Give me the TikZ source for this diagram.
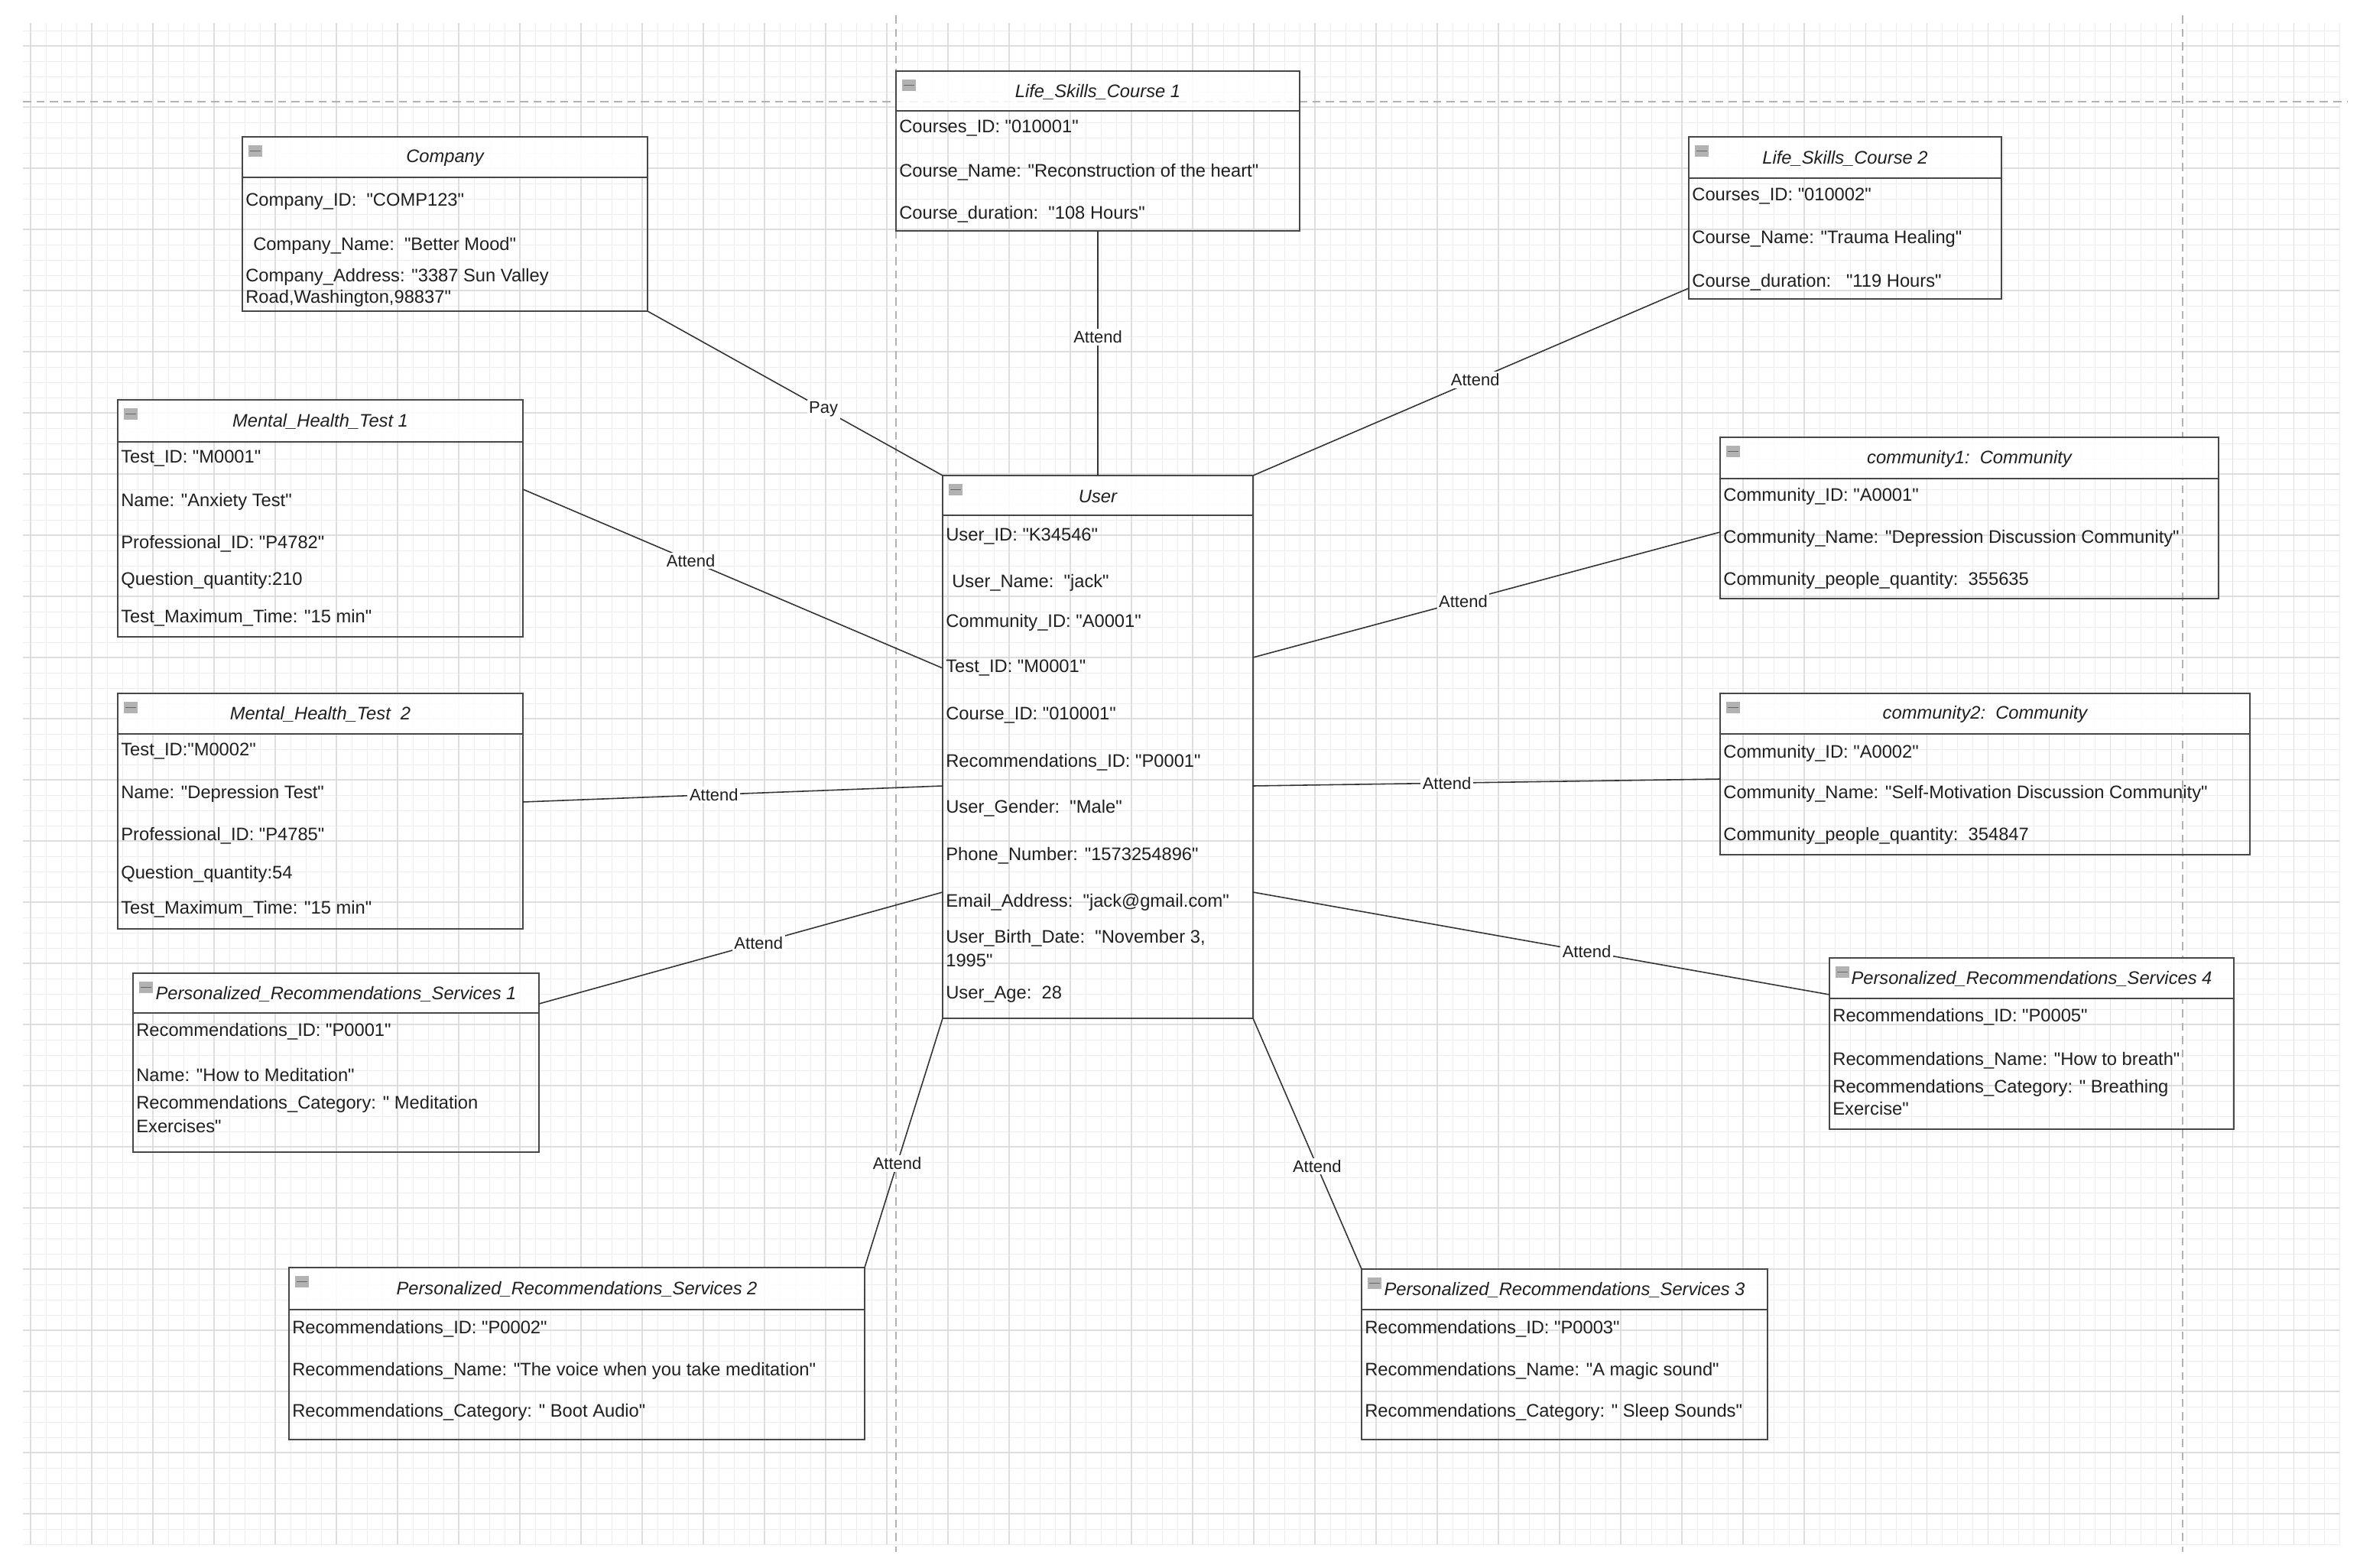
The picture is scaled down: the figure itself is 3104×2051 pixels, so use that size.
\documentclass[tikz,border=0pt]{standalone}
\usepackage{fontspec}
\setmainfont{Liberation Sans}[Ligatures=TeXOff]
\usetikzlibrary{calc,fit}
\newcounter{rowc}
\newcommand\umlbox[7]{% name, x1,y1,x2,y2,hy,title
  \fill[white, fill opacity=0.85] (#2,#3) rectangle (#4,#6);
  \node[boxsty, fit={(#2,#3)(#4,#5)}] (#1) {};
  \draw[boxsty] (#2,#6) -- (#4,#6);
  \node[titletext] (#1-title) at ({(#2+#4)/2},{(#3+#6)/2+1}) {#7};
  \fill[boxicon] ({#2+8},{#3+11}) rectangle ({#2+26},{#3+26});
  \draw[boxiconbar] ({#2+10},{#3+18.5}) -- ({#2+24},{#3+18.5});
}
\newcommand\rowtxt[3]{\stepcounter{rowc}\node[rowtext] (row\arabic{rowc}) at (#1,#2) {#3};}
\begin{document}
\begin{tikzpicture}[x=0.02cm,y=-0.02cm,
  boxsty/.style={draw=black!72, line width=1.3pt, inner sep=0pt, outer sep=0pt},
  rowtext/.style={anchor=west, inner sep=0pt, text=black!88, font=\fontsize{13.5}{16}\selectfont},
  titletext/.style={inner sep=0pt, text=black!88, font=\fontsize{13.5}{16}\selectfont\itshape},
  conn/.style={draw=black!80, line width=0.9pt},
  lbl/.style={fill=white, inner sep=1.5pt, text=black!88, font=\fontsize{12.5}{15}\selectfont},
  boxicon/.style={fill=black!30},
  boxiconbar/.style={draw=black!60, line width=1pt},
  minorgrid/.style={draw=black!7, line width=0.5pt},
  majorgrid/.style={draw=black!13, line width=0.6pt},
  pagebreak/.style={draw=black!30, line width=0.9pt, dash pattern=on 6pt off 4pt}]
\useasboundingbox (0,0) rectangle (3104,2051);
\fill[white] (0,0) rectangle (3104,2051);
% grid
\foreach \x in {40,60,...,3060} \draw[minorgrid] (\x,30) -- (\x,2020);
\foreach \y in {40,60,...,2020} \draw[minorgrid] (30,\y) -- (3060,\y);
\foreach \x in {40,120,...,3060} \draw[majorgrid] (\x,30) -- (\x,2020);
\foreach \y in {60,140,...,2020} \draw[majorgrid] (30,\y) -- (3060,\y);
% page breaks
\draw[pagebreak] (30,133) -- (3070,133);
\draw[pagebreak] (1172,20) -- (1172,2030);
\draw[pagebreak] (2855,20) -- (2855,2030);

% boxes
\umlbox{comp}{317}{179}{847}{407}{232}{Company}
\rowtxt{321}{264}{Company\_ID:~~"COMP123"}
\rowtxt{331}{321}{Company\_Name:~~"Better Mood"}
\rowtxt{321}{362}{Company\_Address: "3387 Sun Valley}
\rowtxt{321}{390}{Road,Washington,98837"}

\umlbox{lsca}{1172}{93}{1700}{302}{145}{Life\_Skills\_Course 1}
\rowtxt{1176}{168}{Courses\_ID: "010001"}
\rowtxt{1176}{225}{Course\_Name: "Reconstruction of the heart"}
\rowtxt{1176}{280}{Course\_duration:~~"108 Hours"}

\umlbox{lscb}{2209}{179}{2618}{391}{233}{Life\_Skills\_Course 2}
\rowtxt{2213}{257}{Courses\_ID: "010002"}
\rowtxt{2213}{312}{Course\_Name: "Trauma Healing"}
\rowtxt{2213}{369}{Course\_duration:~~~"119 Hours"}

\umlbox{mhta}{154}{523}{684}{833}{578}{Mental\_Health\_Test 1}
\rowtxt{158}{600}{Test\_ID: "M0001"}
\rowtxt{158}{656}{Name: "Anxiety Test"}
\rowtxt{158}{711}{Professional\_ID: "P4782"}
\rowtxt{158}{759}{Question\_quantity:210}
\rowtxt{158}{808}{Test\_Maximum\_Time: "15 min"}

\umlbox{mhtb}{154}{907}{684}{1215}{960}{Mental\_Health\_Test~~2}
\rowtxt{158}{983}{Test\_ID:"M0002"}
\rowtxt{158}{1038}{Name: "Depression Test"}
\rowtxt{158}{1093}{Professional\_ID: "P4785"}
\rowtxt{158}{1143}{Question\_quantity:54}
\rowtxt{158}{1189}{Test\_Maximum\_Time: "15 min"}

\umlbox{user}{1233}{622}{1639}{1332}{674}{User}
\rowtxt{1237}{702}{User\_ID: "K34546"}
\rowtxt{1245}{762}{User\_Name:~~"jack"}
\rowtxt{1237}{814}{Community\_ID: "A0001"}
\rowtxt{1237}{874}{Test\_ID: "M0001"}
\rowtxt{1237}{936}{Course\_ID: "010001"}
\rowtxt{1237}{997}{Recommendations\_ID: "P0001"}
\rowtxt{1237}{1057}{User\_Gender:~~"Male"}
\rowtxt{1237}{1119}{Phone\_Number: "1573254896"}
\rowtxt{1237}{1180}{Email\_Address:~~"jack@gmail.com"}
\rowtxt{1237}{1227}{User\_Birth\_Date:~~"November 3,}
\rowtxt{1237}{1256}{1995"}
\rowtxt{1237}{1301}{User\_Age:~~28}

\umlbox{coma}{2250}{572}{2902}{783}{626}{community1:~~Community}
\rowtxt{2254}{649}{Community\_ID: "A0001"}
\rowtxt{2254}{704}{Community\_Name: "Depression Discussion Community"}
\rowtxt{2254}{759}{Community\_people\_quantity:~~355635}

\umlbox{comb}{2250}{907}{2943}{1118}{960}{community2:~~Community}
\rowtxt{2254}{985}{Community\_ID: "A0002"}
\rowtxt{2254}{1038}{Community\_Name: "Self-Motivation Discussion Community"}
\rowtxt{2254}{1093}{Community\_people\_quantity:~~354847}

\umlbox{prsa}{174}{1273}{705}{1507}{1325}{Personalized\_Recommendations\_Services 1}
\rowtxt{178}{1349}{Recommendations\_ID: "P0001"}
\rowtxt{178}{1406}{Name: "How to Meditation"}
\rowtxt{178}{1444}{Recommendations\_Category: " Meditation}
\rowtxt{178}{1473}{Exercises"}

\umlbox{prsd}{2393}{1253}{2922}{1477}{1306}{Personalized\_Recommendations\_Services 4}
\rowtxt{2397}{1330}{Recommendations\_ID: "P0005"}
\rowtxt{2397}{1387}{Recommendations\_Name: "How to breath"}
\rowtxt{2397}{1423}{Recommendations\_Category: " Breathing}
\rowtxt{2397}{1450}{Exercise"}

\umlbox{prsb}{378}{1658}{1131}{1883}{1713}{Personalized\_Recommendations\_Services 2}
\rowtxt{382}{1738}{Recommendations\_ID: "P0002"}
\rowtxt{382}{1793}{Recommendations\_Name: "The voice when you take meditation"}
\rowtxt{382}{1847}{Recommendations\_Category: " Boot Audio"}

\umlbox{prsc}{1781}{1660}{2312}{1883}{1713}{Personalized\_Recommendations\_Services 3}
\rowtxt{1785}{1738}{Recommendations\_ID: "P0003"}
\rowtxt{1785}{1793}{Recommendations\_Name: "A magic sound"}
\rowtxt{1785}{1847}{Recommendations\_Category: " Sleep Sounds"}

% connectors
\draw[conn] (comp.south east) -- node[lbl, pos=0.596] (l1) {Pay} (user.north west);
\draw[conn] (lsca.south) -- node[lbl, pos=0.434] (l2) {Attend} (user.north);
\draw[conn] (user.north east) -- node[lbl, pos=0.51] (l3) {Attend} ($(lscb.south west)+(0,-14)$);
\draw[conn] ($(mhta.north east)+(0,117)$) -- node[lbl, pos=0.40] (l4) {Attend} ($(user.north west)+(0,252)$);
\draw[conn] ($(mhtb.north east)+(0,142)$) -- node[lbl, pos=0.455] (l5) {Attend} ($(user.north west)+(0,406)$);
\draw[conn] ($(prsa.north east)+(0,40)$) -- node[lbl, pos=0.544] (l6) {Attend} ($(user.north west)+(0,545)$);
\draw[conn] (prsb.north east) -- node[lbl, pos=0.417] (l7) {Attend} (user.south west);
\draw[conn] (user.south east) -- node[lbl, pos=0.59] (l8) {Attend} (prsc.north west);
\draw[conn] ($(user.north east)+(0,545)$) -- node[lbl, pos=0.579] (l9) {Attend} ($(prsd.north west)+(0,48)$);
\draw[conn] ($(user.north east)+(0,406)$) -- node[lbl, pos=0.415] (l10) {Attend} ($(comb.north west)+(0,112)$);
\draw[conn] ($(user.north east)+(0,238)$) -- node[lbl, pos=0.45] (l11) {Attend} ($(coma.north west)+(0,124)$);
\end{tikzpicture}
\end{document}
